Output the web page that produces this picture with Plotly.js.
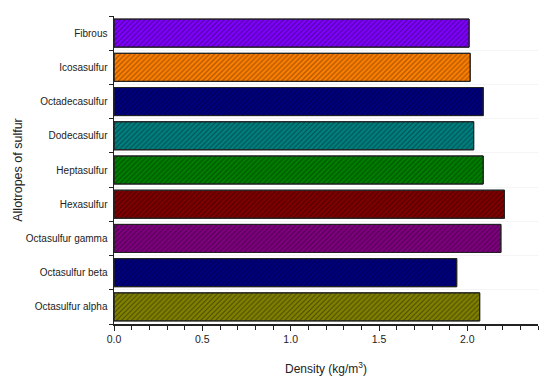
<!DOCTYPE html>
<html>
<head>
<meta charset="utf-8">
<script src="https://cdn.plot.ly/plotly-3.0.1.min.js"></script>
<style>html,body{margin:0;padding:0;background:#fff;}#chart{width:550px;height:385px;}</style>
</head>
<body>
<div id="chart"></div>
<script>
const categories = ["Octasulfur alpha", "Octasulfur beta", "Octasulfur gamma", "Hexasulfur", "Heptasulfur", "Dodecasulfur", "Octadecasulfur", "Icosasulfur", "Fibrous"];
const densities = [2.07, 1.94, 2.19, 2.21, 2.09, 2.036, 2.09, 2.016, 2.01];
const barColors = ["#808000", "#000080", "#800080", "#800000", "#008000", "#008080", "#000080", "#FF8000", "#8000FF"];
const xTickVals = [0, 0.5, 1.0, 1.5, 2.0];
const xTickText = ["0.0", "0.5", "1.0", "1.5", "2.0"];

const solid = {
  type: "bar",
  orientation: "h",
  x: densities,
  y: categories,
  marker: {color: barColors, line: {color: "#222", width: 1}},
  hoverinfo: "none"
};
const hatch = {
  type: "bar",
  orientation: "h",
  x: densities,
  y: categories,
  marker: {
    color: "rgba(0,0,0,0)",
    line: {color: "#222", width: 1},
    pattern: {shape: "/", fillmode: "replace", bgcolor: "rgba(0,0,0,0)", fgcolor: "#000000", fgopacity: 0.4, size: 3.5, solidity: 0.3}
  },
  hoverinfo: "none"
};

const layout = {
  width: 550, height: 385,
  margin: {l: 114, r: 12, t: 16, b: 61},
  paper_bgcolor: "#fff", plot_bgcolor: "#fff",
  barmode: "overlay",
  bargap: 0.18,
  showlegend: false,
  font: {family: "Liberation Sans, Arial, sans-serif", color: "#222", size: 10},
  xaxis: {
    range: [0, 2.4],
    tickvals: xTickVals, ticktext: xTickText,
    ticks: "outside", ticklen: 5, tickwidth: 1, tickcolor: "#222",
    minor: {dtick: 0.1, ticks: "outside", ticklen: 4, tickcolor: "#222", showgrid: false},
    showline: true, linecolor: "#222", linewidth: 1.5,
    showgrid: false, zeroline: false,
    tickfont: {size: 10.5},
    title: {text: "Density (kg/m<sup>3</sup>)", font: {size: 12}, standoff: 20}
  },
  yaxis: {
    type: "category",
    tickson: "boundaries",
    ticks: "outside", ticklen: 4, tickwidth: 1, tickcolor: "#222",
    ticklabelstandoff: 3,
    showline: true, linecolor: "#222", linewidth: 1.5,
    showgrid: true, gridcolor: "rgba(0,0,0,0.04)",
    zeroline: false,
    tickfont: {size: 10},
    title: {text: "Allotropes of sulfur", font: {size: 12.5}, standoff: 0}
  }
};

Plotly.newPlot("chart", [solid, hatch], layout, {displayModeBar: false, staticPlot: true});
</script>
</body>
</html>
